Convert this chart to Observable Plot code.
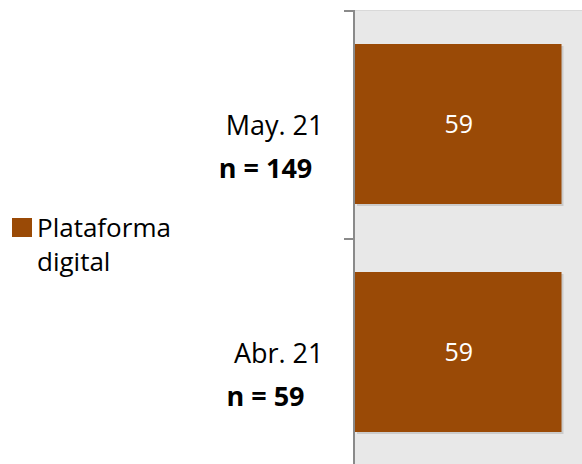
<!DOCTYPE html>
<html>
<head>
<meta charset="utf-8">
<script src="https://cdn.jsdelivr.net/npm/d3@7"></script>
<script src="https://cdn.jsdelivr.net/npm/@observablehq/plot@0.6"></script>
<style>
  html, body { margin: 0; padding: 0; background: #fff; }
  #chart { position: relative; width: 582px; height: 464px; overflow: hidden; }
</style>
</head>
<body>
<div id="chart"></div>
<script>
const categories = ["May. 21", "Abr. 21"];
const sampleLabels = ["n = 149", "n = 59"];
const values = [59, 59];
const seriesName = "Plataforma digital";

const data = categories.map((c, i) => ({cat: c, n: sampleLabels[i], value: values[i]}));

const barColor = "#9A4A06";
const font = "'Open Sans', sans-serif";

const chart = Plot.plot({
  width: 582,
  height: 464,
  marginLeft: 353,
  marginRight: 0,
  marginTop: 10,
  marginBottom: 0,
  style: {fontFamily: font, background: "#fff"},
  x: {domain: [0, 64.8], axis: null},
  y: {domain: categories, range: [10, 466], paddingInner: 0.3, paddingOuter: 0.15, axis: null},
  marks: [
    Plot.frame({fill: "#E8E8E8", stroke: null}),
    // bar shadow
    Plot.barX(data, {x: "value", y: "cat", fill: "#000", fillOpacity: 0.12, dx: 2, dy: 2, insetLeft: 2}),
    Plot.barX(data, {x: "value", y: "cat", fill: barColor, insetLeft: 2}),
    Plot.text(data, {x: d => d.value / 2, y: "cat", text: d => String(d.value), fill: "#fff", fontSize: 25, dx: 1}),
    // category labels
    Plot.text(data, {x: 0, y: "cat", text: "cat", textAnchor: "end", dx: -30, dy: 2, fontSize: 27, fill: "#000"}),
    Plot.text(data, {x: 0, y: "cat", text: "n", textAnchor: "middle", dx: -88, dy: 45, fontSize: 27, fontWeight: "bold", fill: "#000"}),
  ]
});

document.getElementById("chart").appendChild(chart);

const svg = d3.select(chart);
const xs = chart.scale("x"), ys = chart.scale("y");
const step = (ys.range[1] - ys.range[0]) / 2;
const x0 = xs.apply(0);
// top border
svg.append("line").attr("x1", x0 + 2).attr("x2", 582).attr("y1", 10.5).attr("y2", 10.5)
  .attr("stroke", "#D9D9D9").attr("stroke-width", 1);
// axis line
svg.append("line").attr("x1", x0 + 1).attr("x2", x0 + 1).attr("y1", ys.range[0]).attr("y2", 464)
  .attr("stroke", "#8A8A8A").attr("stroke-width", 2);
// tick marks at band boundaries
categories.forEach(c => {
  const yb = ys.apply(c) - (step - ys.bandwidth) / 2;
  svg.append("line").attr("x1", x0 - 9).attr("x2", x0 + 1).attr("y1", yb + 1).attr("y2", yb + 1)
    .attr("stroke", "#8A8A8A").attr("stroke-width", 2);
});

// legend
const lg = svg.append("g").attr("font-family", font).attr("font-size", 26).attr("text-anchor", "start");
lg.append("rect").attr("x", 12).attr("y", 218).attr("width", 20).attr("height", 19).attr("fill", barColor);
const t = lg.append("text").attr("x", 37).attr("y", 237).attr("fill", "#000");
const words = seriesName.split(" ");
t.append("tspan").attr("x", 37).text(words[0]);
t.append("tspan").attr("x", 37).attr("dy", 34).text(words.slice(1).join(" "));
</script>
</body>
</html>
